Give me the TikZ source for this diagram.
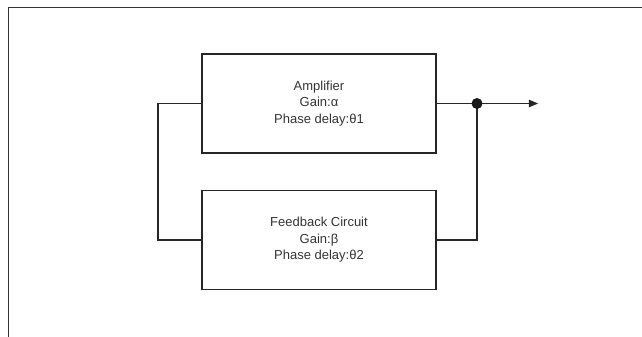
\documentclass[tikz,border=0pt]{standalone}
\usepackage{fontspec}
\setmainfont{Liberation Sans}
\usepackage{tikz}
\usetikzlibrary{arrows,shapes}

\begin{document}
\begin{tikzpicture}[x=1pt,y=-1pt,
	blockbox/.style={draw=black!85, line width=1.1pt, minimum width=234pt, minimum height=99pt, align=center, font=\fontsize{13}{16.5}\selectfont, text=black!80},
	wire/.style={draw=black!85, line width=1.1pt}]
		\useasboundingbox (0,0) rectangle (642,337);

		% frame
		\draw [black!80, line width=1pt] (642,8) -- (8,8) -- (8,337);

		\node[blockbox] (amp) at (319,103.5) {Amplifier\\Gain:α\\Phase delay:θ1};
		\node[blockbox] (fb) at (319,240) {Feedback Circuit\\Gain:β\\Phase delay:θ2};

		\coordinate (lcorner) at (158,103.5);
		\coordinate (junc) at (477,103.5);
		\coordinate (out) at (538,103.5);

		\draw [wire] (amp.west) -- (lcorner) |- (fb.west);
		\draw [wire] (amp.east) -- (junc) |- (fb.east);
		\draw [wire,->,>=triangle 45] (junc) -- (out);

		\node[circle, fill=black!90, inner sep=0pt, minimum size=11pt] at (junc) {};
	\end{tikzpicture}
\end{document}
